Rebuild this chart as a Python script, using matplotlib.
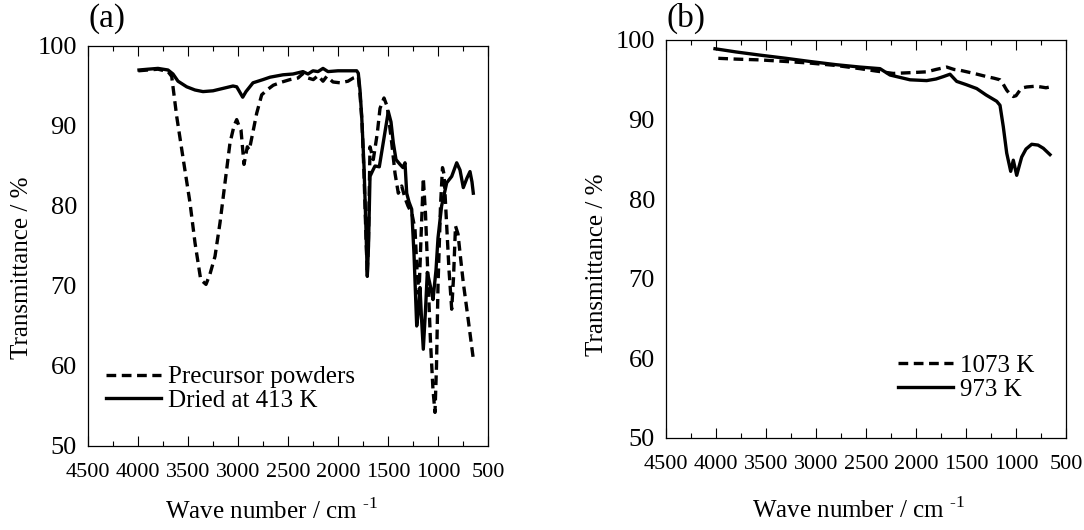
"""
FT-IR transmittance spectra, two panels
"""
import matplotlib
matplotlib.use("Agg")
import matplotlib.pyplot as plt
from matplotlib.ticker import MultipleLocator

plt.rcParams["font.family"] = ["Liberation Serif", "DejaVu Serif"]
plt.rcParams["mathtext.fontset"] = "custom"
plt.rcParams["mathtext.rm"] = "Liberation Serif"
plt.rcParams["lines.scale_dashes"] = False

# panel (a): precursor powders
wn_precursor = [3997, 3900, 3800, 3700, 3663, 3613, 3547, 3480, 3430, 3373, 3320, 3280, 3230,
                3180, 3130, 3080, 3040, 3013, 2990, 2970, 2940, 2907, 2887, 2853, 2813, 2763,
                2700, 2647, 2560, 2480, 2400, 2347, 2300, 2247, 2200, 2150, 2113, 2050, 1980,
                1900, 1847, 1797, 1780, 1760, 1740, 1720, 1707, 1695, 1680, 1647, 1607, 1580,
                1540, 1507, 1463, 1430, 1397, 1363, 1330, 1300, 1260, 1230, 1210, 1190, 1170,
                1147, 1125, 1100, 1075, 1050, 1030, 1015, 1000, 975, 955, 940, 915, 890, 863,
                845, 825, 800, 770, 747, 700, 647]
t_precursor = [96.9, 97.0, 97.1, 96.8, 96.2, 91.2, 85.8, 80.4, 75.4, 70.8, 70.2, 71.5, 73.7,
               77.9, 82.9, 87.9, 90.0, 90.8, 90.0, 89.5, 85.2, 87.4, 87.0, 89.1, 91.6, 93.9,
               94.6, 95.1, 95.5, 95.8, 96.0, 96.6, 96.0, 95.8, 96.3, 95.6, 96.2, 95.5, 95.4,
               95.6, 96.0, 96.2, 94.0, 90.5, 84.0, 76.0, 71.5, 76.0, 87.4, 85.8, 89.1, 92.2,
               93.5, 92.4, 87.9, 84.1, 81.6, 82.5, 81.0, 80.0, 79.0, 77.1, 72.0, 69.0, 76.0,
               83.5, 79.0, 71.0, 63.0, 57.0, 54.2, 60.0, 70.0, 80.0, 84.8, 84.0, 78.0, 72.0,
               67.1, 71.0, 77.5, 76.5, 73.0, 70.4, 66.0, 60.9]

# panel (a): dried at 413 K
wn_dried = [3990, 3900, 3800, 3700, 3650, 3600, 3513, 3430, 3350, 3250, 3150, 3050, 3013, 2985,
            2953, 2920, 2850, 2750, 2680, 2550, 2450, 2350, 2300, 2250, 2200, 2150, 2100, 2000,
            1900, 1813, 1797, 1780, 1763, 1740, 1720, 1707, 1695, 1680, 1650, 1630, 1587, 1540,
            1497, 1470, 1447, 1420, 1380, 1350, 1330, 1313, 1290, 1263, 1240, 1213, 1195, 1180,
            1165, 1147, 1125, 1107, 1085, 1063, 1050, 1020, 1000, 964, 913, 863, 813, 780, 747,
            710, 680, 660, 647]
t_dried = [97.0, 97.1, 97.2, 97.0, 96.5, 95.6, 94.9, 94.5, 94.3, 94.4, 94.7, 95.0, 94.9, 94.3,
           93.6, 94.3, 95.4, 95.8, 96.1, 96.4, 96.5, 96.8, 96.5, 96.9, 96.8, 97.2, 96.8, 96.9,
           96.9, 96.9, 96.6, 94.5, 91.2, 85.0, 77.0, 71.2, 75.0, 83.7, 84.5, 85.0, 84.9, 88.5,
           91.8, 90.5, 87.9, 85.8, 85.2, 84.8, 85.4, 81.6, 80.5, 79.6, 74.0, 65.0, 67.0, 69.8,
           66.0, 62.1, 67.0, 71.7, 70.5, 69.2, 68.3, 72.0, 76.0, 80.0, 82.9, 83.7, 85.4, 84.5,
           82.3, 83.5, 84.3, 83.0, 81.6]

# panel (b): 1073 K
wn_1073 = [3977, 3800, 3560, 3300, 3060, 2800, 2560, 2400, 2227, 2050, 1893, 1800, 1693, 1620,
           1560, 1420, 1293, 1220, 1160, 1130, 1093, 1060, 1027, 1000, 960, 930, 893, 800, 700, 660]
t_1073 = [97.7, 97.6, 97.5, 97.3, 97.1, 96.8, 96.4, 96.1, 95.8, 95.9, 96.0, 96.3, 96.6, 96.3,
          96.2, 95.8, 95.4, 95.2, 95.0, 94.5, 93.7, 93.2, 92.9, 93.0, 93.7, 94.0, 94.1, 94.2, 94.0, 94.1]

# panel (b): 973 K
wn_973 = [4010, 3800, 3560, 3300, 3060, 2800, 2560, 2360, 2260, 2160, 2060, 1893, 1800, 1727,
          1660, 1593, 1500, 1393, 1300, 1193, 1160, 1127, 1093, 1053, 1027, 993, 965, 943, 900,
          843, 780, 727, 660]
t_973 = [98.9, 98.5, 98.1, 97.7, 97.3, 96.9, 96.6, 96.4, 95.6, 95.3, 95.0, 94.9, 95.1, 95.4,
         95.7, 94.8, 94.4, 93.9, 93.1, 92.3, 91.8, 89.1, 85.8, 83.5, 84.9, 83.0, 84.3, 85.3, 86.3,
         86.9, 86.8, 86.4, 85.6]

fig = plt.figure(figsize=(10.84, 5.3), dpi=100)
ax_a = fig.add_axes([88 / 1084, 1 - 446 / 530, 400 / 1084, 400 / 530])
ax_b = fig.add_axes([666 / 1084, 1 - 438 / 530, 400 / 1084, 398 / 530])

dash = (0, (7, 4))
for ax in (ax_a, ax_b):
    ax.set_xlim(4500, 500)
    ax.set_ylim(50, 100)
    ax.xaxis.set_major_locator(MultipleLocator(500))
    ax.xaxis.set_minor_locator(MultipleLocator(250))
    ax.yaxis.set_major_locator(MultipleLocator(10))
    ax.tick_params(axis="x", which="major", direction="in", length=7, width=0.8,
                   top=True, labelsize=16, pad=12)
    ax.tick_params(axis="x", which="minor", direction="in", length=3.5, width=0.8, top=True)
    ax.tick_params(axis="y", length=0, labelsize=19, pad=8)
    for sp in ax.spines.values():
        sp.set_linewidth(0.9)
    ax.set_xlabel("Wave number / cm $^{\\text{-1}}$", fontsize=18)
    ax.set_ylabel("Transmittance / %", fontsize=18)

ax_a.xaxis.set_label_coords((271 - 88) / 400, -0.13)
ax_b.xaxis.set_label_coords((858 - 666) / 400, -0.15)
ax_a.yaxis.set_label_coords(-0.1375, 0.445)
ax_b.yaxis.set_label_coords(-0.145, 0.435)

ax_a.plot(wn_precursor, t_precursor, color="black", lw=2.4, linestyle=dash,
          label="Precursor powders")
ax_a.plot(wn_dried, t_dried, color="black", lw=2.4, label="Dried at 413 K")
ax_b.plot(wn_1073, t_1073, color="black", lw=2.4, linestyle=dash, label="1073 K")
ax_b.plot(wn_973, t_973, color="black", lw=2.4, label="973 K")

for ax, anchor in ((ax_a, (0.045, 0.085)), (ax_b, (0.58, 0.093))):
    ax.legend(loc="lower left", bbox_to_anchor=anchor, frameon=False, fontsize=18,
              handlelength=2.2, handletextpad=0.3, labelspacing=0.05, borderaxespad=0,
              borderpad=0)

fig.text(88 / 1084, 1 - 19 / 530, "(a)", fontsize=24, va="center", ha="left")
fig.text(666 / 1084, 1 - 18 / 530, "(b)", fontsize=24, va="center", ha="left")

fig.savefig("out.png", dpi=100)
